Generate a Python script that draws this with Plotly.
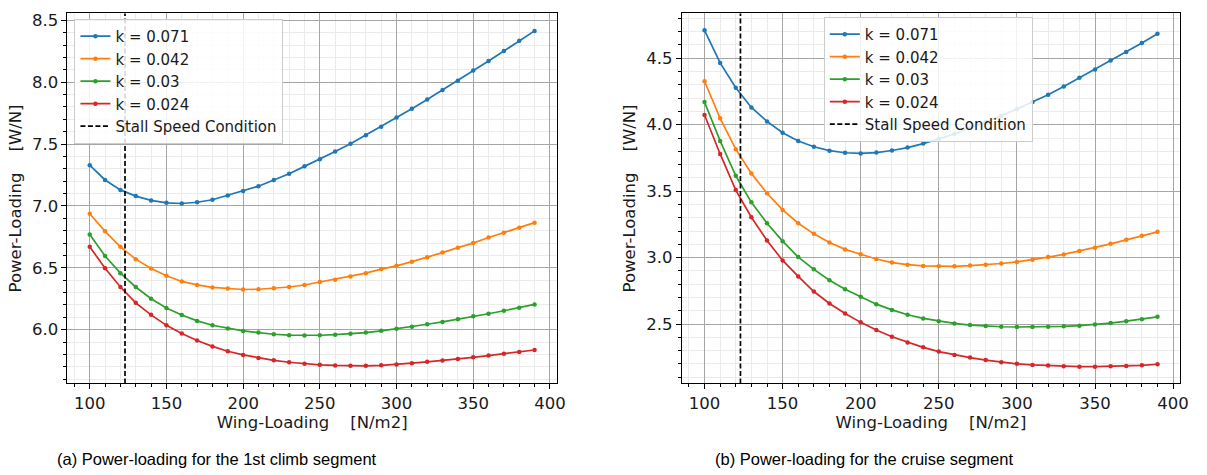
import plotly.graph_objects as go

# ---------------- data ----------------
wing_loading = [100, 110, 120, 130, 140, 150, 160, 170, 180, 190,
                200, 210, 220, 230, 240, 250, 260, 270, 280, 290,
                300, 310, 320, 330, 340, 350, 360, 370, 380, 390]

k_labels = ["k = 0.071", "k = 0.042", "k = 0.03", "k = 0.024"]
stall_wing_loading = 123

climb_k071 = [7.33, 7.21, 7.13, 7.08, 7.045, 7.025, 7.02, 7.03, 7.05, 7.085,
              7.12, 7.16, 7.21, 7.26, 7.32, 7.378, 7.44, 7.503, 7.572, 7.641,
              7.716, 7.785, 7.86, 7.937, 8.012, 8.095, 8.172, 8.252, 8.335, 8.415]
climb_k042 = [6.937, 6.795, 6.67, 6.57, 6.495, 6.436, 6.39, 6.362, 6.342, 6.332,
              6.325, 6.327, 6.335, 6.345, 6.361, 6.385, 6.404, 6.43, 6.457, 6.49,
              6.516, 6.55, 6.585, 6.623, 6.663, 6.70, 6.745, 6.783, 6.823, 6.865]
climb_k030 = [6.77, 6.596, 6.457, 6.345, 6.25, 6.175, 6.119, 6.071, 6.036, 6.01,
              5.99, 5.977, 5.963, 5.956, 5.953, 5.955, 5.96, 5.968, 5.977, 5.991,
              6.007, 6.023, 6.044, 6.063, 6.084, 6.108, 6.129, 6.153, 6.177, 6.204]
climb_k024 = [6.67, 6.497, 6.345, 6.217, 6.12, 6.035, 5.97, 5.912, 5.865, 5.826,
              5.796, 5.772, 5.752, 5.737, 5.725, 5.716, 5.711, 5.708, 5.708, 5.712,
              5.719, 5.729, 5.74, 5.751, 5.764, 5.777, 5.791, 5.805, 5.82, 5.836]

cruise_k071 = [4.71, 4.465, 4.278, 4.13, 4.025, 3.94, 3.878, 3.834, 3.805, 3.789,
               3.784, 3.79, 3.806, 3.828, 3.858, 3.893, 3.93, 3.975, 4.02, 4.068,
               4.118, 4.17, 4.225, 4.288, 4.353, 4.415, 4.483, 4.547, 4.615, 4.685]
cruise_k042 = [4.327, 4.048, 3.816, 3.633, 3.484, 3.359, 3.259, 3.179, 3.114, 3.062,
               3.025, 2.99, 2.963, 2.947, 2.938, 2.935, 2.935, 2.94, 2.947, 2.956,
               2.968, 2.984, 3.004, 3.024, 3.049, 3.074, 3.104, 3.134, 3.164, 3.194]
cruise_k030 = [4.17, 3.878, 3.616, 3.416, 3.259, 3.124, 3.004, 2.912, 2.83, 2.762,
               2.705, 2.65, 2.607, 2.57, 2.543, 2.522, 2.505, 2.493, 2.485, 2.48,
               2.478, 2.478, 2.48, 2.483, 2.488, 2.497, 2.508, 2.522, 2.537, 2.555]
cruise_k024 = [4.073, 3.78, 3.508, 3.304, 3.129, 2.979, 2.859, 2.745, 2.655, 2.58,
               2.513, 2.455, 2.405, 2.362, 2.325, 2.293, 2.268, 2.248, 2.229, 2.213,
               2.201, 2.193, 2.188, 2.183, 2.18, 2.18, 2.182, 2.185, 2.19, 2.198]

x_title = "Wing-Loading\u00a0\u00a0\u00a0\u00a0[N/m2]"
y_title = "Power-Loading\u00a0\u00a0\u00a0\u00a0[W/N]"
captions = ["(a) Power-loading for the 1st climb segment",
            "(b) Power-loading for the cruise segment"]

# ---------------- style ----------------
colors = ["#1f77b4", "#ff7f0e", "#2ca02c", "#d62728"]
FONT = "DejaVu Sans"
W, H = 1207, 475
STALL_DASH = "5px,2.5px"

fig = go.Figure()

panels = [
    dict(series=[climb_k071, climb_k042, climb_k030, climb_k024], xa="x", ya="y", legend="legend"),
    dict(series=[cruise_k071, cruise_k042, cruise_k030, cruise_k024], xa="x2", ya="y2", legend="legend2"),
]

for p in panels:
    for lbl, ys, c in zip(k_labels, p["series"], colors):
        fig.add_trace(go.Scatter(
            x=wing_loading, y=ys, name=lbl, mode="lines+markers",
            line=dict(color=c, width=1.7),
            marker=dict(color=c, size=4.5),
            xaxis=p["xa"], yaxis=p["ya"], legend=p["legend"],
        ))
    # legend entry for stall line
    fig.add_trace(go.Scatter(
        x=[None], y=[None], name="Stall Speed Condition", mode="lines",
        line=dict(color="black", width=1.7, dash=STALL_DASH),
        xaxis=p["xa"], yaxis=p["ya"], legend=p["legend"],
    ))
    fig.add_shape(type="line", x0=stall_wing_loading, x1=stall_wing_loading,
                  xref=p["xa"], yref=p["ya"] + " domain",
                  y0=0, y1=1, line=dict(color="black", width=1.7, dash=STALL_DASH))


def xaxis_cfg(domain, anchor):
    return dict(
        domain=domain, anchor=anchor, range=[85.5, 404.5],
        tickmode="linear", tick0=0, dtick=50,
        showgrid=True, gridcolor="#a6a6a6", gridwidth=1,
        showline=True, mirror=True, linecolor="black", linewidth=1,
        ticks="outside", ticklen=5, tickcolor="black",
        tickfont=dict(family=FONT, size=16.5, color="#1a1a1a"),
        minor=dict(dtick=10, tick0=0, showgrid=True, gridcolor="#ebebeb",
                   ticks="outside", ticklen=3, tickcolor="black"),
        title=dict(text=x_title, font=dict(family=FONT, size=16.5, color="#1a1a1a"), standoff=4),
        zeroline=False,
    )


def yaxis_cfg(domain, anchor, rng):
    return dict(
        domain=domain, anchor=anchor, range=rng,
        tickmode="linear", tick0=0, dtick=0.5, tickformat=".1f",
        showgrid=True, gridcolor="#a6a6a6", gridwidth=1,
        showline=True, mirror=True, linecolor="black", linewidth=1,
        ticks="outside", ticklen=5, tickcolor="black",
        tickfont=dict(family=FONT, size=16.5, color="#1a1a1a"),
        minor=dict(dtick=0.1, tick0=0, showgrid=True, gridcolor="#ebebeb",
                   ticks="outside", ticklen=3, tickcolor="black"),
        title=dict(text=y_title, font=dict(family=FONT, size=16.5, color="#1a1a1a"), standoff=6),
        zeroline=False,
    )


ydom = [1 - 383 / H, 1 - 11.5 / H]
legend_style = dict(
    bgcolor="rgba(255,255,255,0.85)", bordercolor="#cccccc", borderwidth=1,
    font=dict(family=FONT, size=15, color="#1a1a1a"),
    xanchor="left", yanchor="top", tracegroupgap=0,
)

fig.update_layout(
    width=W, height=H,
    margin=dict(l=0, r=0, t=0, b=0),
    paper_bgcolor="white", plot_bgcolor="white",
    xaxis=xaxis_cfg([68 / W, 561 / W], "y"),
    yaxis=yaxis_cfg(ydom, "x", [5.566, 8.556]),
    xaxis2=xaxis_cfg([687 / W, 1189 / W], "y2"),
    yaxis2=yaxis_cfg(ydom, "x2", [2.054, 4.837]),
    legend=dict(x=75 / W, y=1 - 17 / H, **legend_style),
    legend2=dict(x=830 / W, y=1 - 15 / H, **legend_style),
    showlegend=True,
)

for cap, cx in zip(captions, [219 / W, 870 / W]):
    fig.add_annotation(
        text=cap, xref="paper", yref="paper", x=cx, y=1 - 459 / H,
        xanchor="center", yanchor="middle", showarrow=False,
        font=dict(family="Liberation Sans, Arial", size=16.5, color="black"),
    )

fig.write_html("out.html")
